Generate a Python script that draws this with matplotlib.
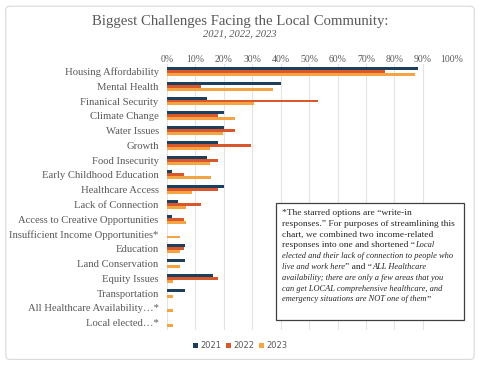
import numpy as np
import matplotlib.pyplot as plt
from matplotlib.patches import FancyBboxPatch

categories = ['Housing Affordability', 'Mental Health', 'Finanical Security',
              'Climate Change', 'Water Issues', 'Growth', 'Food Insecurity',
              'Early Childhood Education', 'Healthcare Access', 'Lack of Connection',
              'Access to Creative Opportunities', 'Insufficient Income Opportunities*',
              'Education', 'Land Conservation', 'Equity Issues', 'Transportation',
              'All Healthcare Availability\u2026*', 'Local elected\u2026*']

v2021 = [88.4, 40.1, 14.2, 20.1, 20.1, 18.1, 14.2, 1.9, 20.1, 4.0, 1.9, 0, 6.2, 6.2, 16.2, 6.2, 0, 0]
v2022 = [76.8, 11.9, 53.1, 17.8, 23.8, 29.5, 17.8, 6.0, 17.8, 11.9, 6.0, 0, 6.0, 0, 17.8, 0, 0, 0]
v2023 = [87.2, 37.2, 30.7, 24.0, 19.6, 15.2, 15.2, 15.3, 8.8, 6.6, 6.6, 4.5, 4.5, 4.5, 2.1, 2.1, 2.1, 2.1]

years = ['2021', '2022', '2023']
colors = ['#1D3F5E', '#D9572B', '#F5A443']
serif = 'Liberation Serif'
gray = '#595959'

fig = plt.figure(figsize=(4.8, 3.66), dpi=100)
# outer chart frame, kept behind the axes
fig.patches.append(FancyBboxPatch((0.012, 0.018), 0.976, 0.965, boxstyle='round,pad=0,rounding_size=0.01',
                                  transform=fig.transFigure, fc='white', ec='#D9D9D9', lw=0.8, zorder=-10))

ax = fig.add_axes([0.348, 0.098, 0.592, 0.727])
ax.patch.set_alpha(0)
y = np.arange(len(categories))
h = 0.2
for i, (vals, c, yr) in enumerate(zip([v2021, v2022, v2023], colors, years)):
    ax.barh(y + (i - 1) * h, np.array(vals) / 100, height=h, color=c, label=yr, zorder=2)

ax.set_xlim(0, 1.0)
ax.set_ylim(len(categories) - 0.5, -0.5)
ax.set_xticks(np.arange(0, 1.01, 0.1))
ax.set_xticklabels([f'{int(t)}%' for t in np.arange(0, 101, 10)], fontfamily=serif, fontsize=7, color=gray)
ax.xaxis.tick_top()
ax.tick_params(axis='x', length=0, pad=0)
ax.tick_params(axis='y', length=0, pad=6)
ax.set_yticks(y)
ax.set_yticklabels(categories, fontfamily=serif, fontsize=7.7, color=gray)
ax.grid(axis='x', color='#E3E3E3', lw=0.8, zorder=0)
for s in ax.spines.values():
    s.set_visible(False)

fig.text(0.5, 1 - 21 / 366, 'Biggest Challenges Facing the Local Community:', ha='center', va='center',
         fontfamily=serif, fontsize=10.6, color=gray)
fig.text(0.5, 1 - 34 / 366, '2021, 2022, 2023', ha='center', va='center',
         fontfamily=serif, fontsize=7.6, style='italic', color=gray)

# note box: each line is (text, style)
lines = [
    ('*The starred options are \u201cwrite-in', 'normal'),
    ('responses.\u201d For purposes of streamlining this', 'normal'),
    ('chart, we combined two income-related', 'normal'),
    ('responses into one and shortened \u201c', 'mixed1'),
    ('elected and their lack of connection to people who', 'italic'),
    ('live and work here', 'mixed2'),
    ('availability; there are only a few areas that you', 'italic'),
    ('can get LOCAL comprehensive healthcare, and', 'italic'),
    ('emergency situations are NOT one of them', 'mixed3'),
]
box_l, box_b, box_w, box_h = 276 / 480, 1 - 320 / 366, 188 / 480, 117 / 366
fig.patches.append(plt.Rectangle((box_l, box_b), box_w, box_h, transform=fig.transFigure,
                                 fc='white', ec='#404040', lw=0.9, zorder=5))
fs = 6.8
fsi = 6.0
tx = box_l + 0.013
ty0 = 1 - 213 / 366
dy = 10.8 / 366
kw = dict(fontfamily=serif, color='#262626', va='center', ha='left', zorder=6)


def after(t):
    fig.canvas.draw()
    return t.get_window_extent().x1 / fig.bbox.width


for k, (txt, st) in enumerate(lines):
    yy = ty0 - k * dy
    if st == 'normal':
        fig.text(tx, yy, txt, fontsize=fs, **kw)
    elif st == 'italic':
        fig.text(tx, yy, txt, style='italic', fontsize=fsi, **kw)
    elif st == 'mixed1':
        t = fig.text(tx, yy, txt, fontsize=fs, **kw)
        fig.text(after(t), yy, 'Local', style='italic', fontsize=fsi, **kw)
    elif st == 'mixed2':
        t = fig.text(tx, yy, txt, style='italic', fontsize=fsi, **kw)
        t2 = fig.text(after(t), yy, '\u201d and \u201c', fontsize=fs, **kw)
        fig.text(after(t2), yy, 'ALL Healthcare', style='italic', fontsize=fsi, **kw)
    elif st == 'mixed3':
        t = fig.text(tx, yy, txt, style='italic', fontsize=fsi, **kw)
        fig.text(after(t), yy, '\u201d', fontsize=fs, **kw)

fig.legend(loc='center', bbox_to_anchor=(0.5, 1 - 346 / 366), ncol=3, frameon=False,
           fontsize=6, handlelength=0.6, handleheight=0.6, handletextpad=0.25,
           columnspacing=0.6, labelcolor=gray)

fig.savefig('out.png', dpi=100)
